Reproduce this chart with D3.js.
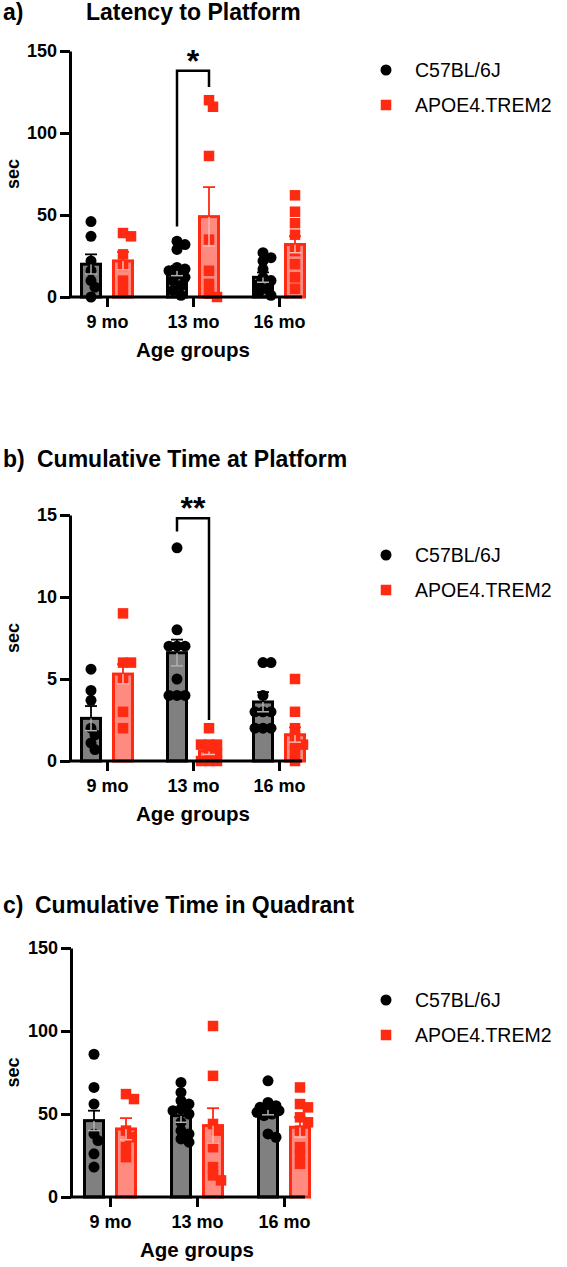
<!DOCTYPE html>
<html>
<head>
<meta charset="utf-8">
<script src="https://cdn.jsdelivr.net/npm/d3@7"></script>
<style>
  body { margin: 0; background: #fff; }
  svg { display: block; font-family: "Liberation Sans", Arial, Helvetica, sans-serif; }
</style>
</head>
<body>
<svg id="chart" width="567" height="1267"></svg>
<script>
const groups = ["9 mo", "13 mo", "16 mo"]
const series = ["C57BL/6J", "APOE4.TREM2"]

// a) Latency to Platform
const latencyMeanWT = [20, 16, 12]
const latencySemWT = [6, 3, 3]
const latencyMeanAPOE = [22, 49, 32]
const latencySemAPOE = [5.5, 18, 5]
const latencyPointsWT = [
    [46, 37, 22, 16, 10, 6, 0],
    [34, 32, 29, 18, 17, 16, 14, 12, 10, 7, 4, 1],
    [27, 24, 22, 17, 12, 10, 8, 5, 3, 1]
]
const latencyPointsAPOE = [
    [39, 37, 26, 19, 10, 4],
    [120, 116, 86, 35, 16, 8, 2, 0],
    [62, 52, 45, 38, 28, 20, 12, 5]
]

// b) Cumulative Time at Platform
const platformMeanWT = [2.6, 6.6, 3.6]
const platformSemWT = [0.75, 0.8, 0.6]
const platformMeanAPOE = [5.3, 0.6, 1.6]
const platformSemAPOE = [0.6, 0.2, 0.45]
const platformPointsWT = [
    [5.6, 4.3, 3.7, 2.0, 1.6, 1.1, 0.7],
    [13, 8, 7, 7, 7, 5, 4, 4, 4],
    [6, 6, 4, 3, 3, 3, 2, 2, 2]
]
const platformPointsAPOE = [
    [9, 6, 6, 5, 3, 2],
    [2, 1, 1, 1, 0.5, 0.5, 0, 0, 0],
    [5, 3, 2, 1.5, 1, 1, 0.5, 0]
]

// c) Cumulative Time in Quadrant
const quadrantMeanWT = [46, 49, 52.5]
const quadrantSemWT = [6, 4, 3]
const quadrantMeanAPOE = [41, 43, 42]
const quadrantSemAPOE = [6.5, 10.5, 6]
const quadrantPointsWT = [
    [86, 66, 56, 38, 34, 26, 18],
    [69, 63, 58, 56, 53, 52, 50, 45, 40, 38, 35, 33],
    [70, 57, 55, 54, 53, 52, 51, 50, 49, 38, 36]
]
const quadrantPointsAPOE = [
    [62, 59, 40, 36, 30, 24],
    [103, 73, 44, 40, 30, 18, 13, 10],
    [66, 56, 54, 48, 45, 40, 30, 25, 20]
]

// significance brackets: group, bracket top, left leg end, right leg end
const latencyStars = [{group: "13 mo", label: "*", top: 138, left: 43, right: 128}]
const platformStars = [{group: "13 mo", label: "**", top: 14.8, left: 14.0, right: 2.5}]

const yTicks150 = [0, 50, 100, 150]
const yTicks15 = [0, 5, 10, 15]

const black = "#000"
const red = "#ff2a12"
const grey = "#808080"
const pink = "#ff8a80"
const barOffset = 16
const barWidth = 19
const capWidth = 12
const dotR = 5.5
const squareSide = 10.5
const jitterSteps = [0, 4, -4, 8, -8, 11, -11]

const svg = d3.select("#chart")

function drawPanel(p){
    const g = svg.append("g")

    const y = d3.scaleLinear().domain([0, p.max]).range([p.y0, p.yTop])
    const x = d3.scalePoint().domain(groups).range(p.xRange)

    // titles
    g.append("text")
        .text(p.letter)
        .attr("x", 3).attr("y", p.titleY)
        .attr("font-size", 23).attr("font-weight", "bold")
    g.append("text")
        .text(p.title)
        .attr("x", p.titleX).attr("y", p.titleY)
        .attr("font-size", 23).attr("font-weight", "bold")

    // bars, points, error bars
    const sets = [
        {mean: p.meanWT, sem: p.semWT, pts: p.ptsWT, off: -barOffset, fill: grey, stroke: black, light: "#b0b0b0", shape: "circle"},
        {mean: p.meanAPOE, sem: p.semAPOE, pts: p.ptsAPOE, off: barOffset, fill: pink, stroke: red, light: "#ffb8b0", shape: "square"}
    ]

    for (const s of sets){
        groups.forEach((grp, i) => {
            const cx = x(grp) + s.off
            g.append("rect")
                .attr("x", cx - barWidth / 2)
                .attr("y", y(s.mean[i]))
                .attr("width", barWidth)
                .attr("height", y(0) - y(s.mean[i]))
                .attr("fill", s.fill)
                .attr("stroke", s.stroke)
                .attr("stroke-width", 3)

            // compact beeswarm: spread overlapping points a little sideways
            const placed = []
            const sorted = s.pts[i].slice().sort((a, b) => b - a)
            for (const v of sorted){
                const py = y(v)
                let best = 0, bestDist = -1
                for (const cand of jitterSteps){
                    const d = placed.length ? d3.min(placed, q => Math.hypot(q.dx - cand, q.py - py)) : Infinity
                    if (d >= dotR * 1.3) { best = cand; bestDist = Infinity; break }
                    if (d > bestDist) { best = cand; bestDist = d }
                }
                placed.push({dx: best, py: py})
                if (s.shape === "circle"){
                    g.append("circle")
                        .attr("cx", cx + best).attr("cy", py)
                        .attr("r", dotR)
                        .attr("fill", black)
                } else {
                    g.append("rect")
                        .attr("x", cx + best - squareSide / 2).attr("y", py - squareSide / 2)
                        .attr("width", squareSide).attr("height", squareSide)
                        .attr("fill", red)
                }
            }

            const hi = y(s.mean[i] + s.sem[i])
            const lo = y(Math.max(0, s.mean[i] - s.sem[i]))
            const m = y(s.mean[i])
            g.append("line")
                .attr("x1", cx).attr("x2", cx).attr("y1", m).attr("y2", lo)
                .attr("stroke", s.light).attr("stroke-width", 1.5)
            g.append("line")
                .attr("x1", cx - capWidth / 2).attr("x2", cx + capWidth / 2).attr("y1", lo).attr("y2", lo)
                .attr("stroke", s.light).attr("stroke-width", 1.5)
            g.append("line")
                .attr("x1", cx).attr("x2", cx).attr("y1", m).attr("y2", hi)
                .attr("stroke", s.stroke).attr("stroke-width", 1.8)
            g.append("line")
                .attr("x1", cx - capWidth / 2).attr("x2", cx + capWidth / 2).attr("y1", hi).attr("y2", hi)
                .attr("stroke", s.stroke).attr("stroke-width", 1.8)
        })
    }

    // axes
    const yAxis = g.append("g")
        .attr("transform", `translate(${p.axisX},0)`)
        .call(d3.axisLeft(y).tickValues(p.ticks).tickSize(10).tickSizeOuter(0).tickPadding(3))
    yAxis.selectAll("path, line").attr("stroke", black).attr("stroke-width", 3)
    yAxis.selectAll("text").attr("font-size", 18).attr("font-weight", "bold").attr("fill", black)
        .attr("font-family", "'Liberation Sans', Arial, sans-serif")

    const xAxis = g.append("g")
        .attr("transform", `translate(0,${p.y0})`)
        .call(d3.axisBottom(x).tickSize(10).tickSizeOuter(0).tickPadding(8))
    xAxis.select(".domain").remove()
    xAxis.append("line")
        .attr("x1", p.axisX).attr("x2", p.xEnd)
        .attr("stroke", black).attr("stroke-width", 3)
    xAxis.selectAll("line").attr("stroke", black).attr("stroke-width", 3)
    xAxis.selectAll("text").attr("font-size", 18).attr("font-weight", "bold").attr("fill", black)
        .attr("font-family", "'Liberation Sans', Arial, sans-serif")

    g.append("text")
        .text("Age groups")
        .attr("x", (p.xRange[0] + p.xRange[1]) / 2).attr("y", p.y0 + 60)
        .attr("text-anchor", "middle")
        .attr("font-size", 20.5).attr("font-weight", "bold")

    g.append("text")
        .text("sec")
        .attr("transform", `translate(19,${(p.y0 + p.yTop) / 2}) rotate(-90)`)
        .attr("text-anchor", "middle")
        .attr("font-size", 18).attr("font-weight", "bold")

    // significance
    for (const st of p.stars){
        const l = x(st.group) - barOffset
        const r = x(st.group) + barOffset
        g.append("path")
            .attr("d", `M${l},${y(st.left)}V${y(st.top)}H${r}V${y(st.right)}`)
            .attr("fill", "none").attr("stroke", black).attr("stroke-width", 2.5)
        g.append("text")
            .text(st.label)
            .attr("x", x(st.group)).attr("y", y(st.top) + 1)
            .attr("text-anchor", "middle")
            .attr("font-size", 32).attr("font-weight", "bold")
    }

    // legend
    series.forEach((name, i) => {
        const ly = p.legendY + i * 35
        if (i === 0){
            g.append("circle").attr("cx", 386).attr("cy", ly).attr("r", dotR).attr("fill", black)
        } else {
            g.append("rect").attr("x", 386 - squareSide / 2).attr("y", ly - squareSide / 2)
                .attr("width", squareSide).attr("height", squareSide).attr("fill", red)
        }
        g.append("text")
            .text(name)
            .attr("x", 415).attr("y", ly)
            .attr("dominant-baseline", "central")
            .attr("font-size", 19.5)
    })
}

drawPanel({
    letter: "a)", title: "Latency to Platform", titleX: 86, titleY: 20,
    max: 150, ticks: yTicks150, y0: 297, yTop: 51, axisX: 70, xRange: [107, 279], xEnd: 302,
    meanWT: latencyMeanWT, semWT: latencySemWT, ptsWT: latencyPointsWT,
    meanAPOE: latencyMeanAPOE, semAPOE: latencySemAPOE, ptsAPOE: latencyPointsAPOE,
    stars: latencyStars, legendY: 70
})

drawPanel({
    letter: "b)", title: "Cumulative Time at Platform", titleX: 37, titleY: 467,
    max: 15, ticks: yTicks15, y0: 761, yTop: 515, axisX: 70, xRange: [107, 279], xEnd: 302,
    meanWT: platformMeanWT, semWT: platformSemWT, ptsWT: platformPointsWT,
    meanAPOE: platformMeanAPOE, semAPOE: platformSemAPOE, ptsAPOE: platformPointsAPOE,
    stars: platformStars, legendY: 555
})

drawPanel({
    letter: "c)", title: "Cumulative Time in Quadrant", titleX: 35, titleY: 913,
    max: 150, ticks: yTicks150, y0: 1197, yTop: 948, axisX: 71, xRange: [110, 284], xEnd: 305,
    meanWT: quadrantMeanWT, semWT: quadrantSemWT, ptsWT: quadrantPointsWT,
    meanAPOE: quadrantMeanAPOE, semAPOE: quadrantSemAPOE, ptsAPOE: quadrantPointsAPOE,
    stars: [], legendY: 1000
})
</script>
</body>
</html>
